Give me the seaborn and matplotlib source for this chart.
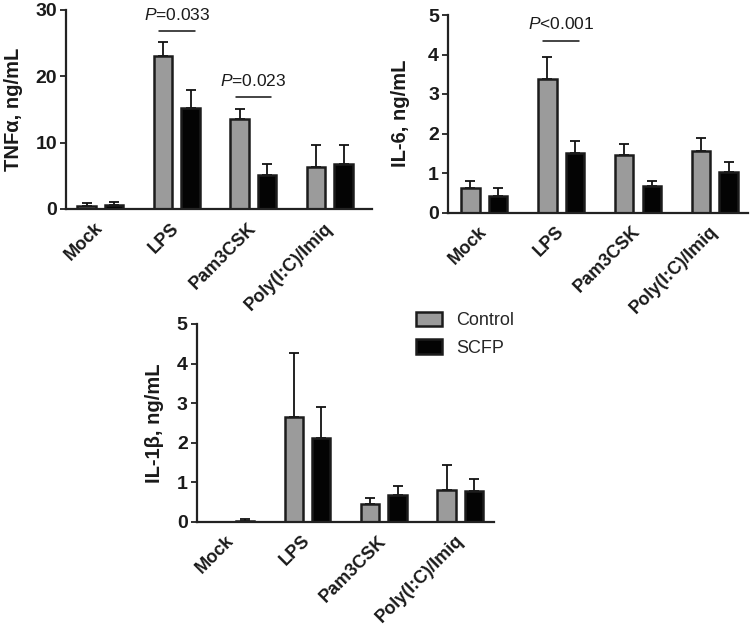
import numpy as np
import pandas as pd
import matplotlib
matplotlib.use("Agg")
import matplotlib.pyplot as plt
import matplotlib.patches as mpatches
import seaborn as sns

treatments = ["Mock", "LPS", "Pam3CSK", "Poly(I:C)/Imiq"]
groups = ["Control", "SCFP"]

tnf_control = [0.4, 23.1, 13.5, 6.4]
tnf_control_err = [0.5, 2.1, 1.6, 3.2]
tnf_scfp = [0.55, 15.2, 5.2, 6.8]
tnf_scfp_err = [0.55, 2.8, 1.6, 2.8]

il6_control = [0.63, 3.38, 1.46, 1.56]
il6_control_err = [0.17, 0.55, 0.27, 0.33]
il6_scfp = [0.43, 1.51, 0.68, 1.03]
il6_scfp_err = [0.2, 0.3, 0.11, 0.24]

il1b_control = [0.0, 2.64, 0.45, 0.79]
il1b_control_err = [0.0, 1.63, 0.14, 0.64]
il1b_scfp = [0.03, 2.11, 0.67, 0.78]
il1b_scfp_err = [0.04, 0.79, 0.23, 0.30]

GRAY = "#9b9b9b"
BLACK = "#040404"
EDGE = "#1c1c1c"

sns.set_theme(style="ticks")
plt.rcParams["font.family"] = ["Liberation Sans", "DejaVu Sans"]
plt.rcParams["mathtext.fontset"] = "custom"
plt.rcParams["mathtext.it"] = "Liberation Sans:italic"
plt.rcParams["mathtext.rm"] = "Liberation Sans"

W, H = 752, 627
fig = plt.figure(figsize=(W / 100, H / 100), dpi=100)
fig.patch.set_facecolor("white")


def px_axes(x0, x1, ytop, ybot):
    return fig.add_axes([x0 / W, 1 - ybot / H, (x1 - x0) / W, (ybot - ytop) / H])


ax1 = px_axes(66, 372, 10, 209)
ax2 = px_axes(448, 748, 15, 212.5)
ax3 = px_axes(196.7, 494, 324, 521.7)


def panel(ax, ctrl, ctrl_err, scfp, scfp_err, ymax, ystep, ylabel, xlim, lab_x):
    df = pd.DataFrame({
        "Treatment": treatments * 2,
        "Group": [groups[0]] * len(treatments) + [groups[1]] * len(treatments),
        "Value": list(ctrl) + list(scfp),
    })
    sns.barplot(data=df, x="Treatment", y="Value", hue="Group", order=treatments,
                hue_order=groups, palette=[GRAY, BLACK], width=0.72, gap=0.33,
                errorbar=None, edgecolor=EDGE, linewidth=1.8, saturation=1,
                legend=False, ax=ax)
    for cont, err in zip(ax.containers, [ctrl_err, scfp_err]):
        xs = [p.get_x() + p.get_width() / 2 for p in cont.patches]
        ys = [p.get_height() for p in cont.patches]
        ax.errorbar(xs, ys, yerr=[np.zeros(len(err)), err], fmt="none",
                    ecolor="#111111", elinewidth=1.3, capsize=3.3, capthick=1.3,
                    zorder=0.5)
    ax.set_xlim(*xlim)
    ax.set_ylim(0, ymax)
    ax.set_yticks(np.arange(0, ymax + ystep / 2, ystep))
    ax.set_xticks(range(len(treatments)))
    ax.set_xticklabels(treatments, rotation=45, ha="right", va="center",
                       rotation_mode="anchor", fontweight="bold", fontsize=13,
                       color="#1a1a1a")
    for lab in ax.get_yticklabels():
        lab.set_fontweight("bold")
        lab.set_fontsize(14)
        lab.set_color("#1a1a1a")
    ax.tick_params(axis="x", length=0, pad=12)
    ax.tick_params(axis="y", length=4.5, width=1.3, pad=2, color="#222222")
    ax.set_xlabel("")
    ax.set_ylabel(ylabel, fontweight="bold", fontsize=14.5, color="#1a1a1a")
    ax.yaxis.set_label_coords(lab_x, 0.5)
    sns.despine(ax=ax)
    for s in ["left", "bottom"]:
        ax.spines[s].set_linewidth(1.6)
        ax.spines[s].set_color("#222222")
    ax.set_facecolor("white")
    return ax


def bracket(ax, i, y_line, y_text, label):
    c0 = ax.containers[0].patches[i]
    c1 = ax.containers[1].patches[i]
    x0 = c0.get_x() + c0.get_width() / 2 - 0.05
    x1 = c1.get_x() + c1.get_width() / 2 + 0.05
    ax.plot([x0, x1], [y_line, y_line], color="#111111", lw=1.1, clip_on=False)
    ax.text((x0 + x1) / 2, y_text, label, ha="center", va="center", fontsize=12.5,
            color="#1a1a1a", clip_on=False)


panel(ax1, tnf_control, tnf_control_err, tnf_scfp, tnf_scfp_err, 30, 10,
      "TNFα, ng/mL", (-0.45, 3.55), -0.14)
bracket(ax1, 1, 26.9, 29.3, r"$P$=0.033")
bracket(ax1, 2, 16.9, 19.3, r"$P$=0.023")

panel(ax2, il6_control, il6_control_err, il6_scfp, il6_scfp_err, 5, 1,
      "IL-6, ng/mL", (-0.47, 3.43), -0.127)
bracket(ax2, 1, 4.35, 4.77, r"$P$<0.001")

panel(ax3, il1b_control, il1b_control_err, il1b_scfp, il1b_scfp_err, 5, 1,
      "IL-1β, ng/mL", (-0.45, 3.44), -0.11)

handles = [mpatches.Patch(facecolor=GRAY, edgecolor=EDGE, linewidth=1.8),
           mpatches.Patch(facecolor=BLACK, edgecolor=EDGE, linewidth=1.8)]
fig.legend(handles, groups, loc="upper left", bbox_to_anchor=(416 / W, 1 - 312 / H),
           frameon=False, fontsize=13, handlelength=1.45, handleheight=0.85,
           handletextpad=0.75, labelspacing=0.55, borderpad=0, borderaxespad=0)

fig.savefig("out.png", dpi=100, facecolor="white")
